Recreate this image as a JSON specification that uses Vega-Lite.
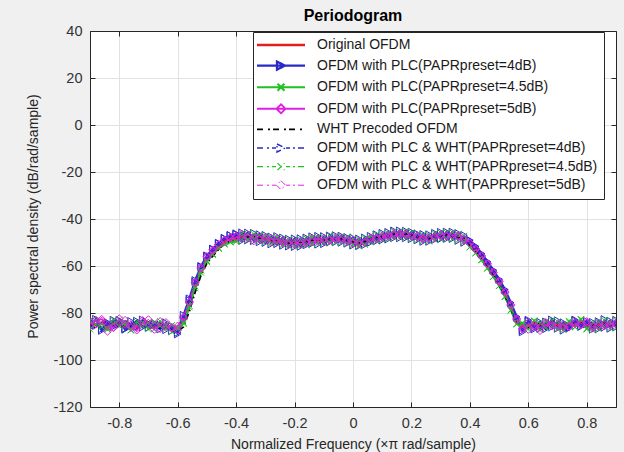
{
"$schema": "https://vega.github.io/schema/vega-lite/v6.json",
"width": 526, "height": 376,
"autosize": {"type": "none"},
"padding": {"left": 90, "top": 31, "right": 8, "bottom": 45},
"background": "#f0f0f0",
"title": {"text": "Periodogram", "font": "Liberation Sans", "fontSize": 16, "fontWeight": "bold", "color": "#000000", "anchor": "middle", "offset": 10, "dy": 11},
"config": {
  "view": {"stroke": "#262626", "fill": "white"},
  "axis": {"labelFont": "Liberation Sans", "labelFontSize": 14.5, "labelColor": "#333333", "titleFont": "Liberation Sans", "titleFontSize": 14, "titleFontWeight": "normal", "titleColor": "#262626", "domainColor": "#262626", "tickColor": "#262626", "gridColor": "#e2e2e2", "gridOpacity": 1}
},
"datasets": {
"names": [
 {"key": "s1", "series": "Original OFDM"},
 {"key": "s2", "series": "OFDM with PLC(PAPRpreset=4dB)"},
 {"key": "s3", "series": "OFDM with PLC(PAPRpreset=4.5dB)"},
 {"key": "s4", "series": "OFDM with PLC(PAPRpreset=5dB)"},
 {"key": "s5", "series": "WHT Precoded OFDM"},
 {"key": "s6", "series": "OFDM with PLC & WHT(PAPRpreset=4dB)"},
 {"key": "s7", "series": "OFDM with PLC & WHT(PAPRpreset=4.5dB)"},
 {"key": "s8", "series": "OFDM with PLC & WHT(PAPRpreset=5dB)"}
],
"psd": [
{"f":-0.90,"s1":-84.0,"s2":-86.2,"s3":-83.1,"s4":-85.7,"s5":-84.9,"s6":-82.8,"s7":-86.9,"s8":-83.6},
{"f":-0.88,"s1":-85.1,"s2":-82.6,"s3":-84.8,"s4":-83.0,"s5":-86.3,"s6":-85.4,"s7":-83.2,"s8":-84.7},
{"f":-0.86,"s1":-84.2,"s2":-87.5,"s3":-85.9,"s4":-82.7,"s5":-84.0,"s6":-86.8,"s7":-84.5,"s8":-83.4},
{"f":-0.84,"s1":-86.4,"s2":-84.0,"s3":-87.1,"s4":-85.2,"s5":-83.6,"s6":-84.4,"s7":-86.5,"s8":-87.8},
{"f":-0.82,"s1":-83.8,"s2":-85.9,"s3":-82.9,"s4":-86.3,"s5":-85.1,"s6":-83.0,"s7":-84.7,"s8":-86.0},
{"f":-0.80,"s1":-84.9,"s2":-83.1,"s3":-85.6,"s4":-82.4,"s5":-86.0,"s6":-84.8,"s7":-82.9,"s8":-84.2},
{"f":-0.78,"s1":-85.6,"s2":-87.0,"s3":-83.8,"s4":-84.9,"s5":-83.4,"s6":-86.7,"s7":-85.2,"s8":-83.1},
{"f":-0.76,"s1":-84.7,"s2":-85.3,"s3":-87.4,"s4":-86.1,"s5":-85.9,"s6":-83.5,"s7":-87.2,"s8":-85.0},
{"f":-0.74,"s1":-86.0,"s2":-83.4,"s3":-84.6,"s4":-87.3,"s5":-84.2,"s6":-85.8,"s7":-83.7,"s8":-86.4},
{"f":-0.72,"s1":-83.9,"s2":-86.1,"s3":-84.0,"s4":-83.2,"s5":-85.5,"s6":-82.9,"s7":-85.8,"s8":-84.1},
{"f":-0.70,"s1":-85.3,"s2":-84.6,"s3":-86.8,"s4":-84.4,"s5":-83.8,"s6":-86.2,"s7":-84.1,"s8":-82.8},
{"f":-0.68,"s1":-86.2,"s2":-85.0,"s3":-83.9,"s4":-87.0,"s5":-85.7,"s6":-84.3,"s7":-86.9,"s8":-85.4},
{"f":-0.66,"s1":-84.4,"s2":-86.9,"s3":-85.5,"s4":-83.6,"s5":-86.4,"s6":-85.1,"s7":-83.5,"s8":-86.7},
{"f":-0.64,"s1":-85.8,"s2":-84.2,"s3":-86.7,"s4":-85.9,"s5":-84.6,"s6":-87.2,"s7":-85.0,"s8":-84.0},
{"f":-0.62,"s1":-86.9,"s2":-87.6,"s3":-85.2,"s4":-86.0,"s5":-87.3,"s6":-85.8,"s7":-88.1,"s8":-86.4},
{"f":-0.60,"s1":-86.0,"s2":-88.4,"s3":-86.9,"s4":-85.5,"s5":-87.8,"s6":-89.0,"s7":-86.2,"s8":-87.3},
{"f":-0.58,"s1":-83.8,"s2":-80.9,"s3":-84.6,"s4":-82.1,"s5":-85.9,"s6":-82.5,"s7":-84.0,"s8":-81.7},
{"f":-0.56,"s1":-76.8,"s2":-73.9,"s3":-77.5,"s4":-75.2,"s5":-79.4,"s6":-74.6,"s7":-76.9,"s8":-75.5},
{"f":-0.54,"s1":-68.9,"s2":-66.1,"s3":-69.4,"s4":-67.3,"s5":-71.2,"s6":-66.8,"s7":-68.5,"s8":-67.0},
{"f":-0.52,"s1":-62.0,"s2":-60.1,"s3":-62.8,"s4":-61.0,"s5":-64.0,"s6":-60.4,"s7":-61.9,"s8":-60.7},
{"f":-0.50,"s1":-57.4,"s2":-55.6,"s3":-58.3,"s4":-56.2,"s5":-58.9,"s6":-56.0,"s7":-57.8,"s8":-55.9},
{"f":-0.48,"s1":-54.3,"s2":-52.9,"s3":-55.2,"s4":-53.6,"s5":-55.8,"s6":-52.7,"s7":-54.8,"s8":-53.1},
{"f":-0.46,"s1":-51.8,"s2":-50.2,"s3":-52.6,"s4":-51.0,"s5":-53.0,"s6":-50.5,"s7":-52.3,"s8":-50.9},
{"f":-0.44,"s1":-49.9,"s2":-48.3,"s3":-50.8,"s4":-48.9,"s5":-50.6,"s6":-48.1,"s7":-50.4,"s8":-49.2},
{"f":-0.42,"s1":-48.8,"s2":-47.0,"s3":-49.9,"s4":-48.2,"s5":-49.3,"s6":-46.9,"s7":-49.6,"s8":-47.8},
{"f":-0.40,"s1":-48.2,"s2":-46.5,"s3":-49.6,"s4":-47.3,"s5":-48.7,"s6":-46.2,"s7":-49.1,"s8":-47.7},
{"f":-0.38,"s1":-47.6,"s2":-49.2,"s3":-46.1,"s4":-48.5,"s5":-47.9,"s6":-45.8,"s7":-48.8,"s8":-46.6},
{"f":-0.36,"s1":-47.4,"s2":-45.9,"s3":-48.9,"s4":-46.8,"s5":-47.7,"s6":-49.0,"s7":-46.3,"s8":-48.1},
{"f":-0.34,"s1":-47.8,"s2":-49.3,"s3":-46.4,"s4":-48.0,"s5":-47.5,"s6":-46.0,"s7":-48.6,"s8":-49.4},
{"f":-0.32,"s1":-48.1,"s2":-46.6,"s3":-49.5,"s4":-47.4,"s5":-48.3,"s6":-49.8,"s7":-46.9,"s8":-48.7},
{"f":-0.30,"s1":-48.6,"s2":-50.1,"s3":-47.2,"s4":-49.3,"s5":-48.4,"s6":-46.9,"s7":-49.9,"s8":-47.8},
{"f":-0.28,"s1":-49.0,"s2":-47.6,"s3":-50.4,"s4":-48.2,"s5":-49.5,"s6":-50.7,"s7":-47.9,"s8":-49.8},
{"f":-0.26,"s1":-49.2,"s2":-50.6,"s3":-47.8,"s4":-49.9,"s5":-48.8,"s6":-47.4,"s7":-50.3,"s8":-48.5},
{"f":-0.24,"s1":-49.6,"s2":-48.0,"s3":-51.0,"s4":-49.1,"s5":-49.9,"s6":-51.3,"s7":-48.4,"s8":-50.2},
{"f":-0.22,"s1":-50.1,"s2":-51.6,"s3":-48.7,"s4":-50.9,"s5":-50.3,"s6":-48.5,"s7":-51.4,"s8":-49.6},
{"f":-0.20,"s1":-50.0,"s2":-48.4,"s3":-51.5,"s4":-49.5,"s5":-50.2,"s6":-51.8,"s7":-48.9,"s8":-50.8},
{"f":-0.18,"s1":-50.2,"s2":-51.7,"s3":-48.8,"s4":-50.6,"s5":-49.8,"s6":-48.3,"s7":-51.2,"s8":-49.4},
{"f":-0.16,"s1":-49.5,"s2":-48.0,"s3":-51.0,"s4":-49.9,"s5":-49.7,"s6":-51.1,"s7":-48.2,"s8":-50.3},
{"f":-0.14,"s1":-49.1,"s2":-50.5,"s3":-47.6,"s4":-49.8,"s5":-48.9,"s6":-47.5,"s7":-50.6,"s8":-48.4},
{"f":-0.12,"s1":-48.9,"s2":-47.3,"s3":-50.4,"s4":-48.5,"s5":-49.2,"s6":-50.8,"s7":-47.7,"s8":-49.6},
{"f":-0.10,"s1":-49.0,"s2":-50.6,"s3":-47.8,"s4":-49.5,"s5":-49.1,"s6":-47.4,"s7":-50.2,"s8":-48.3},
{"f":-0.08,"s1":-48.6,"s2":-47.1,"s3":-50.0,"s4":-48.9,"s5":-48.4,"s6":-49.9,"s7":-47.0,"s8":-49.2},
{"f":-0.06,"s1":-48.4,"s2":-49.8,"s3":-47.2,"s4":-48.1,"s5":-48.7,"s6":-47.0,"s7":-49.9,"s8":-48.8},
{"f":-0.04,"s1":-48.7,"s2":-47.2,"s3":-49.9,"s4":-49.0,"s5":-48.3,"s6":-50.0,"s7":-47.4,"s8":-48.1},
{"f":-0.02,"s1":-49.0,"s2":-50.4,"s3":-47.6,"s4":-49.6,"s5":-49.3,"s6":-47.8,"s7":-50.5,"s8":-48.7},
{"f":0.00,"s1":-49.6,"s2":-48.1,"s3":-51.0,"s4":-49.0,"s5":-49.8,"s6":-51.2,"s7":-48.5,"s8":-50.3},
{"f":0.02,"s1":-50.0,"s2":-51.5,"s3":-48.6,"s4":-50.7,"s5":-50.2,"s6":-48.4,"s7":-51.6,"s8":-49.5},
{"f":0.04,"s1":-49.4,"s2":-48.0,"s3":-50.9,"s4":-49.9,"s5":-49.6,"s6":-51.0,"s7":-48.2,"s8":-50.1},
{"f":0.06,"s1":-48.6,"s2":-50.0,"s3":-47.1,"s4":-48.2,"s5":-48.9,"s6":-47.3,"s7":-49.8,"s8":-48.0},
{"f":0.08,"s1":-48.1,"s2":-46.6,"s3":-49.5,"s4":-48.6,"s5":-47.8,"s6":-49.4,"s7":-46.7,"s8":-48.3},
{"f":0.10,"s1":-47.5,"s2":-49.0,"s3":-46.2,"s4":-47.9,"s5":-47.7,"s6":-46.0,"s7":-48.9,"s8":-47.2},
{"f":0.12,"s1":-47.1,"s2":-45.6,"s3":-48.5,"s4":-46.8,"s5":-47.3,"s6":-48.6,"s7":-45.9,"s8":-47.5},
{"f":0.14,"s1":-46.6,"s2":-48.0,"s3":-45.1,"s4":-46.9,"s5":-46.4,"s6":-45.0,"s7":-47.8,"s8":-46.2},
{"f":0.16,"s1":-46.4,"s2":-45.0,"s3":-47.9,"s4":-46.1,"s5":-46.7,"s6":-48.1,"s7":-45.3,"s8":-46.8},
{"f":0.18,"s1":-46.6,"s2":-48.1,"s3":-45.2,"s4":-46.9,"s5":-46.3,"s6":-45.1,"s7":-47.9,"s8":-46.0},
{"f":0.20,"s1":-47.0,"s2":-45.5,"s3":-48.4,"s4":-47.3,"s5":-46.8,"s6":-48.5,"s7":-45.7,"s8":-47.4},
{"f":0.22,"s1":-47.6,"s2":-49.0,"s3":-46.2,"s4":-47.1,"s5":-47.9,"s6":-46.3,"s7":-49.1,"s8":-47.7},
{"f":0.24,"s1":-48.0,"s2":-46.5,"s3":-49.4,"s4":-48.6,"s5":-47.8,"s6":-49.6,"s7":-46.7,"s8":-48.2},
{"f":0.26,"s1":-48.1,"s2":-49.6,"s3":-46.7,"s4":-47.8,"s5":-48.4,"s6":-46.6,"s7":-49.5,"s8":-48.0},
{"f":0.28,"s1":-47.4,"s2":-46.0,"s3":-48.9,"s4":-47.9,"s5":-47.2,"s6":-48.8,"s7":-46.1,"s8":-47.6},
{"f":0.30,"s1":-47.1,"s2":-48.5,"s3":-45.8,"s4":-46.7,"s5":-47.4,"s6":-45.6,"s7":-48.6,"s8":-47.0},
{"f":0.32,"s1":-46.9,"s2":-45.5,"s3":-48.3,"s4":-47.4,"s5":-46.7,"s6":-48.4,"s7":-45.7,"s8":-47.2},
{"f":0.34,"s1":-47.0,"s2":-48.4,"s3":-45.6,"s4":-46.8,"s5":-47.3,"s6":-45.5,"s7":-48.5,"s8":-46.9},
{"f":0.36,"s1":-47.6,"s2":-46.1,"s3":-49.0,"s4":-47.2,"s5":-47.9,"s6":-49.2,"s7":-46.4,"s8":-47.7},
{"f":0.38,"s1":-48.4,"s2":-50.0,"s3":-47.2,"s4":-48.9,"s5":-48.2,"s6":-46.9,"s7":-49.8,"s8":-48.6},
{"f":0.40,"s1":-50.6,"s2":-49.0,"s3":-51.9,"s4":-50.1,"s5":-51.4,"s6":-49.2,"s7":-52.0,"s8":-50.3},
{"f":0.42,"s1":-53.2,"s2":-51.6,"s3":-54.4,"s4":-52.7,"s5":-54.0,"s6":-51.8,"s7":-54.6,"s8":-52.9},
{"f":0.44,"s1":-56.1,"s2":-54.7,"s3":-57.5,"s4":-55.8,"s5":-57.0,"s6":-54.9,"s7":-57.4,"s8":-55.6},
{"f":0.46,"s1":-59.7,"s2":-58.1,"s3":-60.9,"s4":-59.0,"s5":-60.6,"s6":-58.3,"s7":-61.0,"s8":-59.2},
{"f":0.48,"s1":-63.2,"s2":-61.7,"s3":-64.5,"s4":-62.6,"s5":-64.0,"s6":-61.9,"s7":-64.6,"s8":-62.8},
{"f":0.50,"s1":-67.1,"s2":-65.6,"s3":-68.5,"s4":-66.7,"s5":-68.2,"s6":-65.8,"s7":-68.4,"s8":-66.5},
{"f":0.52,"s1":-71.7,"s2":-70.0,"s3":-73.1,"s4":-71.2,"s5":-72.8,"s6":-70.2,"s7":-73.0,"s8":-71.0},
{"f":0.54,"s1":-77.3,"s2":-75.6,"s3":-78.7,"s4":-76.5,"s5":-78.4,"s6":-75.8,"s7":-78.9,"s8":-76.7},
{"f":0.56,"s1":-83.1,"s2":-81.5,"s3":-84.6,"s4":-82.5,"s5":-84.3,"s6":-81.8,"s7":-84.8,"s8":-82.7},
{"f":0.58,"s1":-85.6,"s2":-87.4,"s3":-84.2,"s4":-86.9,"s5":-85.0,"s6":-88.1,"s7":-84.6,"s8":-86.5},
{"f":0.60,"s1":-85.2,"s2":-83.4,"s3":-86.8,"s4":-84.1,"s5":-86.3,"s6":-83.0,"s7":-85.7,"s8":-87.0},
{"f":0.62,"s1":-84.6,"s2":-86.3,"s3":-83.2,"s4":-85.7,"s5":-84.0,"s6":-86.9,"s7":-83.5,"s8":-85.1},
{"f":0.64,"s1":-85.4,"s2":-83.9,"s3":-87.1,"s4":-86.2,"s5":-84.8,"s6":-86.6,"s7":-84.2,"s8":-87.5},
{"f":0.66,"s1":-85.1,"s2":-86.8,"s3":-83.6,"s4":-84.5,"s5":-86.2,"s6":-83.7,"s7":-86.4,"s8":-84.0},
{"f":0.68,"s1":-84.3,"s2":-82.9,"s3":-85.8,"s4":-84.9,"s5":-83.5,"s6":-86.0,"s7":-83.1,"s8":-85.6},
{"f":0.70,"s1":-85.0,"s2":-86.6,"s3":-83.7,"s4":-85.9,"s5":-84.4,"s6":-83.2,"s7":-86.8,"s8":-84.7},
{"f":0.72,"s1":-85.7,"s2":-84.1,"s3":-87.2,"s4":-85.0,"s5":-86.5,"s6":-87.4,"s7":-84.6,"s8":-86.1},
{"f":0.74,"s1":-84.8,"s2":-86.5,"s3":-83.4,"s4":-85.6,"s5":-84.1,"s6":-86.2,"s7":-83.8,"s8":-85.9},
{"f":0.76,"s1":-84.6,"s2":-82.9,"s3":-85.9,"s4":-84.0,"s5":-85.7,"s6":-83.3,"s7":-86.1,"s8":-84.4},
{"f":0.78,"s1":-84.2,"s2":-85.8,"s3":-82.6,"s4":-84.9,"s5":-83.5,"s6":-85.6,"s7":-82.9,"s8":-85.2},
{"f":0.80,"s1":-85.1,"s2":-83.5,"s3":-86.6,"s4":-84.3,"s5":-86.0,"s6":-84.7,"s7":-86.9,"s8":-83.6},
{"f":0.82,"s1":-85.4,"s2":-87.0,"s3":-84.1,"s4":-86.5,"s5":-85.0,"s6":-83.9,"s7":-87.3,"s8":-85.8},
{"f":0.84,"s1":-85.2,"s2":-83.6,"s3":-86.7,"s4":-84.2,"s5":-85.9,"s6":-86.8,"s7":-83.7,"s8":-85.5},
{"f":0.86,"s1":-84.4,"s2":-86.1,"s3":-83.0,"s4":-85.6,"s5":-84.0,"s6":-82.7,"s7":-85.8,"s8":-84.9},
{"f":0.88,"s1":-85.1,"s2":-83.4,"s3":-86.5,"s4":-84.8,"s5":-85.7,"s6":-86.6,"s7":-83.9,"s8":-85.3},
{"f":0.90,"s1":-84.6,"s2":-86.0,"s3":-83.1,"s4":-84.2,"s5":-85.4,"s6":-83.0,"s7":-86.2,"s8":-84.7}
]
},
"data": {"name": "psd"},
"transform": [
  {"fold": ["s1", "s2", "s3", "s4", "s5", "s6", "s7", "s8"], "as": ["key", "value"]},
  {"lookup": "key", "from": {"data": {"name": "names"}, "key": "key", "fields": ["series"]}}
],
"layer": [
 {
  "mark": {"type": "line", "clip": true},
  "encoding": {
   "x": {"field": "f", "type": "quantitative", "scale": {"domain": [-0.9, 0.9], "nice": false, "zero": false},
     "axis": {"orient": "bottom", "values": [-0.8, -0.6, -0.4, -0.2, 0, 0.2, 0.4, 0.6, 0.8], "format": ".1~f", "labelExpr": "replace(datum.label, '\u2212', '-')", "grid": true, "tickSize": -5, "labelPadding": 21, "labelBaseline": "middle", "title": "Normalized Frequency (×π rad/sample)", "titleY": 37, "titleBaseline": "middle"}},
   "y": {"field": "value", "type": "quantitative", "scale": {"domain": [-120, 40], "nice": false, "zero": false},
     "axis": {"orient": "left", "values": [-120, -100, -80, -60, -40, -20, 0, 20, 40], "labelExpr": "replace(datum.label, '\u2212', '-')", "grid": true, "tickSize": -5, "labelPadding": 13, "title": "Power spectral density (dB/rad/sample)", "titleX": -57, "titleY": 185, "titleAngle": -90, "titleAlign": "center", "titleBaseline": "middle"}},
   "color": {"field": "series", "type": "nominal",
     "scale": {"domain": ["Original OFDM", "OFDM with PLC(PAPRpreset=4dB)", "OFDM with PLC(PAPRpreset=4.5dB)", "OFDM with PLC(PAPRpreset=5dB)", "WHT Precoded OFDM", "OFDM with PLC & WHT(PAPRpreset=4dB)", "OFDM with PLC & WHT(PAPRpreset=4.5dB)", "OFDM with PLC & WHT(PAPRpreset=5dB)"],
               "range": ["#e02020", "#2a2ac8", "#22c022", "#e020e0", "#000000", "#2a2ac8", "#22c022", "#e020e0"]},
     "legend": {"orient": "none", "legendX": 163, "legendY": 1, "title": null, "fillColor": "white", "strokeColor": "#262626", "padding": 6, "rowPadding": 4.6,
       "labelFont": "Liberation Sans", "labelFontSize": 14, "labelColor": "#1a1a1a", "labelLimit": 420, "labelOffset": 44, "symbolSize": 4, "symbolStrokeWidth": 1,
       "encode": {"symbols": {"update": {
         "shape": {"signal": "['M-9,0H39', 'M-9,0H39M11,-4L19,0L11,4Z', 'M-9,0H39M11.5,-3.5L18.5,3.5M11.5,3.5L18.5,-3.5', 'M-9,0H39M15,-4.5L19.5,0L15,4.5L10.5,0Z', 'M-9,0H-1M2,0H4M7,0H15M18,0H20M23,0H31M34,0H36', 'M-9,0H-2M1,0H3M6,0H10M11,-4L19,0L11,4ZM20,0H24M27,0H29M32,0H39', 'M-9,0H-2M1,0H3M6,0H10M11.5,-3.5L18.5,3.5M11.5,3.5L18.5,-3.5M20,0H24M27,0H29M32,0H39', 'M-9,0H-2M1,0H3M6,0H10M15,-4.5L19.5,0L15,4.5L10.5,0ZM20,0H24M27,0H29M32,0H39'][datum.index]"},
         "strokeWidth": {"signal": "datum.index === 0 ? 3 : 1"},
         "fill": {"value": "transparent"},
         "fillOpacity": {"value": 0},
         "strokeDash": {"value": []},
         "opacity": {"value": 1}
       }}}}},
   "strokeDash": {"field": "series", "type": "nominal",
     "scale": {"domain": ["Original OFDM", "OFDM with PLC(PAPRpreset=4dB)", "OFDM with PLC(PAPRpreset=4.5dB)", "OFDM with PLC(PAPRpreset=5dB)", "WHT Precoded OFDM", "OFDM with PLC & WHT(PAPRpreset=4dB)", "OFDM with PLC & WHT(PAPRpreset=4.5dB)", "OFDM with PLC & WHT(PAPRpreset=5dB)"],
               "range": [[1, 0], [1, 0], [1, 0], [1, 0], [6, 3, 1.5, 3], [6, 3, 1.5, 3], [6, 3, 1.5, 3], [6, 3, 1.5, 3]]},
     "legend": null},
   "strokeWidth": {"field": "series", "type": "nominal",
     "scale": {"domain": ["Original OFDM", "OFDM with PLC(PAPRpreset=4dB)", "OFDM with PLC(PAPRpreset=4.5dB)", "OFDM with PLC(PAPRpreset=5dB)", "WHT Precoded OFDM", "OFDM with PLC & WHT(PAPRpreset=4dB)", "OFDM with PLC & WHT(PAPRpreset=4.5dB)", "OFDM with PLC & WHT(PAPRpreset=5dB)"],
               "range": [2.5, 1, 1, 1, 1.5, 1, 1, 1]},
     "legend": null}
  }
 },
 {
  "transform": [{"filter": "datum.key === 's2' || datum.key === 's6'"}],
  "mark": {"type": "point", "shape": "triangle-right", "filled": false, "opacity": 1, "strokeWidth": 1, "size": 55, "clip": true},
  "encoding": {
   "x": {"field": "f", "type": "quantitative", "axis": {"orient": "top", "values": [-0.8, -0.6, -0.4, -0.2, 0, 0.2, 0.4, 0.6, 0.8], "labels": false, "grid": false, "tickSize": -5, "title": null}},
   "y": {"field": "value", "type": "quantitative", "axis": {"orient": "right", "values": [-120, -100, -80, -60, -40, -20, 0, 20, 40], "labels": false, "grid": false, "tickSize": -5, "title": null}},
   "color": {"field": "series", "type": "nominal", "legend": null}
  }
 },
 {
  "transform": [{"filter": "datum.key === 's3' || datum.key === 's7'"}],
  "mark": {"type": "point", "shape": "M-1,-1L1,1M1,-1L-1,1", "filled": false, "opacity": 1, "strokeWidth": 1, "size": 40, "clip": true},
  "encoding": {
   "x": {"field": "f", "type": "quantitative", "axis": null},
   "y": {"field": "value", "type": "quantitative", "axis": null},
   "color": {"field": "series", "type": "nominal", "legend": null}
  }
 },
 {
  "transform": [{"filter": "datum.key === 's4' || datum.key === 's8'"}],
  "mark": {"type": "point", "shape": "diamond", "filled": false, "opacity": 1, "strokeWidth": 1, "size": 60, "clip": true},
  "encoding": {
   "x": {"field": "f", "type": "quantitative", "axis": null},
   "y": {"field": "value", "type": "quantitative", "axis": null},
   "color": {"field": "series", "type": "nominal", "legend": null}
  }
 }
],
"resolve": {"axis": {"x": "independent", "y": "independent"}}
}
